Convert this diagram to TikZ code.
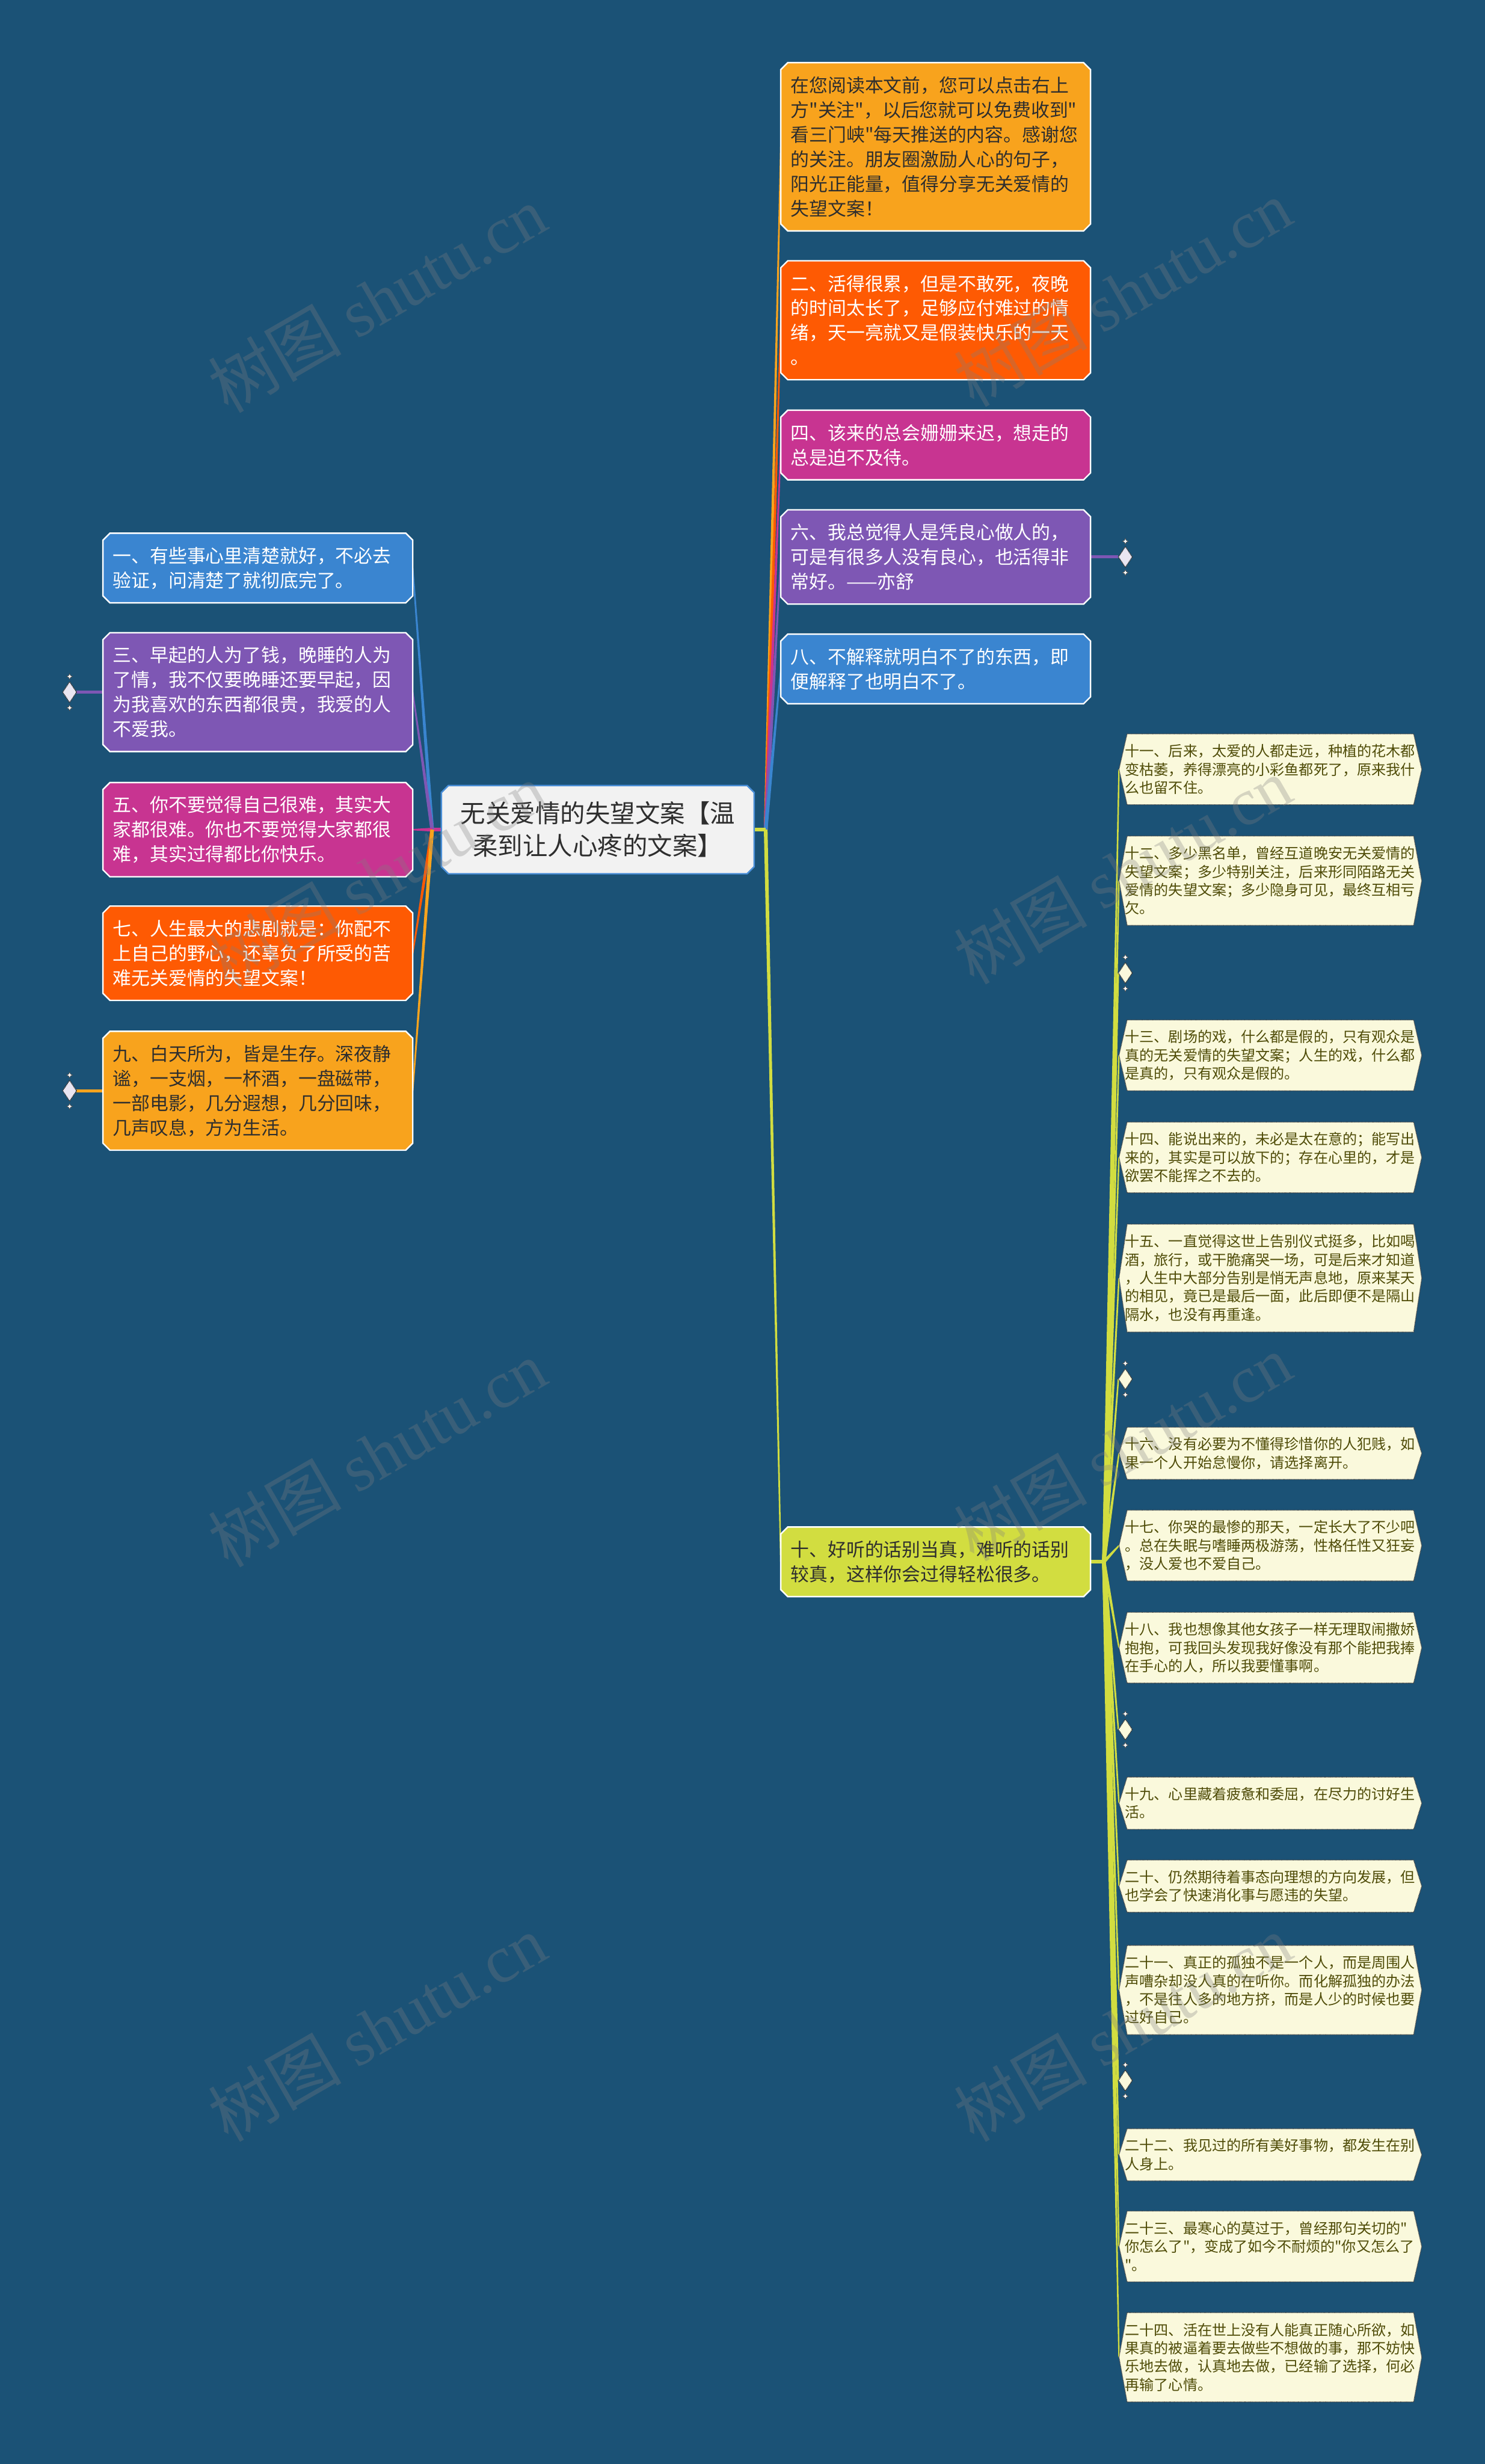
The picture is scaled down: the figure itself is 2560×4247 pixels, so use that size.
\documentclass[tikz,border=0pt]{standalone}
\usepackage{fontspec}
\setmainfont{Noto Sans CJK SC}[Ligatures=TeXOff]
\newfontfamily\wmlatin{Liberation Serif}
\usetikzlibrary{calc,shapes.geometric}
\pgfdeclarelayer{pagebg}
\pgfdeclarelayer{edges}
\pgfdeclarelayer{boxes}
\pgfsetlayers{pagebg,edges,boxes,main}
\definecolor{bgblue}{HTML}{1B5276}
\definecolor{camber}{HTML}{F8A31D}
\definecolor{cred}{HTML}{FE5A03}
\definecolor{cmag}{HTML}{C83491}
\definecolor{cpur}{HTML}{7E57B4}
\definecolor{cblue}{HTML}{3A85D0}
\definecolor{cgreen}{HTML}{D2DD40}
\definecolor{croot}{HTML}{F2F2F2}
\definecolor{crootb}{HTML}{4A8FD8}
\definecolor{cream}{HTML}{FAF9DC}
\definecolor{creamtxt}{HTML}{4F4C08}
\definecolor{darktxt}{HTML}{2E2E2E}
\definecolor{diafill}{HTML}{E9E5F1}
\tikzset{
  topbox/.style={rectangle, inner xsep=17pt, inner ysep=0pt, outer sep=0pt, text width=500pt, align=left,
    font=\fontsize{32pt}{42.5pt}\selectfont, minimum height={#1*42.5pt+35pt}},
  rootbox/.style={rectangle, inner xsep=20pt, inner ysep=0pt, outer sep=0pt, text width=499pt, align=center,
    font=\fontsize{43pt}{56pt}\selectfont, text=darktxt, minimum height=152pt},
  creambox/.style={rectangle, inner xsep=10.5pt, inner ysep=0pt, outer sep=0pt, text width=501pt, align=left,
    font=\fontsize{25pt}{31.5pt}\selectfont, text=creamtxt, minimum height={#1*32pt+26pt}},
  dia/.style={diamond, minimum width=24pt, minimum height=36pt, inner sep=0pt, outer sep=0pt,
    draw=black!80, densely dotted, line width=1.5pt},
  wm/.style={rotate=30, text=black!50, text opacity=0.3, font=\fontsize{115pt}{120pt}\selectfont},
  stub/.style={line width=6pt},
}
\newcommand\chbox[3]{%
  \begin{pgfonlayer}{boxes}
  \filldraw[fill=#2, draw=#3, line width=2.5pt]
    ([xshift=12pt]#1.north west) -- ([xshift=-12pt]#1.north east)
    -- ([yshift=-12pt]#1.north east) -- ([yshift=12pt]#1.south east)
    -- ([xshift=-12pt]#1.south east) -- ([xshift=12pt]#1.south west)
    -- ([yshift=12pt]#1.south west) -- ([yshift=-12pt]#1.north west) -- cycle;
  \end{pgfonlayer}}
\newcommand\hexbox[1]{%
  \begin{pgfonlayer}{boxes}
  \filldraw[fill=cream, draw=black!75, densely dotted, line width=1.4pt]
    (#1.west) -- ([xshift=14pt]#1.north west) -- ([xshift=-14pt]#1.north east)
    -- (#1.east) -- ([xshift=-14pt]#1.south east) -- ([xshift=14pt]#1.south west) -- cycle;
  \end{pgfonlayer}}
\newcommand\taper[5]{%
  \begin{pgfonlayer}{edges}
  \fill[#1] ($(#2)!#4!90:(#3)$) -- ($(#3)!#5!-90:(#2)$) -- ($(#3)!#5!90:(#2)$) -- ($(#2)!#4!-90:(#3)$) -- cycle;
  \end{pgfonlayer}}
\newcommand\dstars[1]{%
  \foreach \s in {27pt,-27pt}{
    \filldraw[fill=white, draw=black!70, line width=0.7pt] ([yshift=\s]#1.center) +(0pt,5pt) -- +(1.6pt,1.6pt) -- +(5pt,0pt) -- +(1.6pt,-1.6pt) -- +(0pt,-5pt) -- +(-1.6pt,-1.6pt) -- +(-5pt,0pt) -- +(-1.6pt,1.6pt) -- cycle;}}
\begin{document}
\begin{tikzpicture}[x=1pt,y=-1pt]
\useasboundingbox (0,0) rectangle (2560,4247);
\begin{pgfonlayer}{pagebg}
\fill[bgblue] (0,0) rectangle (2560,4247);
\end{pgfonlayer}

% root
\node[rootbox] (root) at (1030.5,1430) {无关爱情的失望文案【温\\柔到让人心疼的文案】};
\chbox{root}{croot}{crootb}

% right top
\node[topbox=6, text=darktxt] (n1) at (1613,253) {在您阅读本文前，您可以点击右上\\方"关注"，以后您就可以免费收到"\\看三门峡"每天推送的内容。感谢您\\的关注。朋友圈激励人心的句子，\\阳光正能量，值得分享无关爱情的\\失望文案！};
\node[topbox=4, text=white] (n2) at (1613,552) {二、活得很累，但是不敢死，夜晚\\的时间太长了，足够应付难过的情\\绪，天一亮就又是假装快乐的一天\\。};
\node[topbox=2, text=white] (n3) at (1613,767) {四、该来的总会姗姗来迟，想走的\\总是迫不及待。};
\node[topbox=3, text=white] (n4) at (1613,960) {六、我总觉得人是凭良心做人的，\\可是有很多人没有良心，也活得非\\常好。——亦舒};
\node[topbox=2, text=white] (n5) at (1613,1153) {八、不解释就明白不了的东西，即\\便解释了也明白不了。};
\chbox{n1}{camber}{white}
\chbox{n2}{cred}{white}
\chbox{n3}{cmag}{white}
\chbox{n4}{cpur}{white}
\chbox{n5}{cblue}{white}

% left
\node[topbox=2, text=white] (l1) at (444.5,979) {一、有些事心里清楚就好，不必去\\验证，问清楚了就彻底完了。};
\node[topbox=4, text=white] (l2) at (444.5,1193) {三、早起的人为了钱，晚睡的人为\\了情，我不仅要晚睡还要早起，因\\为我喜欢的东西都很贵，我爱的人\\不爱我。};
\node[topbox=3, text=white] (l3) at (444.5,1430) {五、你不要觉得自己很难，其实大\\家都很难。你也不要觉得大家都很\\难，其实过得都比你快乐。};
\node[topbox=3, text=white] (l4) at (444.5,1643) {七、人生最大的悲剧就是：你配不\\上自己的野心，还辜负了所受的苦\\难无关爱情的失望文案！};
\node[topbox=4, text=darktxt] (l5) at (444.5,1880) {九、白天所为，皆是生存。深夜静\\谧，一支烟，一杯酒，一盘磁带，\\一部电影，几分遐想，几分回味，\\几声叹息，方为生活。};
\chbox{l1}{cblue}{white}
\chbox{l2}{cpur}{white}
\chbox{l3}{cmag}{white}
\chbox{l4}{cred}{white}
\chbox{l5}{camber}{white}

% green
\node[topbox=2, text=darktxt] (green) at (1613,2692) {十、好听的话别当真，难听的话别\\较真，这样你会过得轻松很多。};
\chbox{green}{cgreen}{white}

% cream children
\node[creambox=3] (c11) at (2190,1326) {十一、后来，太爱的人都走远，种植的花木都\\变枯萎，养得漂亮的小彩鱼都死了，原来我什\\么也留不住。};
\node[creambox=4] (c12) at (2190,1518) {十二、多少黑名单，曾经互道晚安无关爱情的\\失望文案；多少特别关注，后来形同陌路无关\\爱情的失望文案；多少隐身可见，最终互相亏\\欠。};
\node[creambox=3] (c13) at (2190,1819) {十三、剧场的戏，什么都是假的，只有观众是\\真的无关爱情的失望文案；人生的戏，什么都\\是真的，只有观众是假的。};
\node[creambox=3] (c14) at (2190,1995) {十四、能说出来的，未必是太在意的；能写出\\来的，其实是可以放下的；存在心里的，才是\\欲罢不能挥之不去的。};
\node[creambox=5] (c15) at (2190,2203) {十五、一直觉得这世上告别仪式挺多，比如喝\\酒，旅行，或干脆痛哭一场，可是后来才知道\\，人生中大部分告别是悄无声息地，原来某天\\的相见，竟已是最后一面，此后即便不是隔山\\隔水，也没有再重逢。};
\node[creambox=2] (c16) at (2190,2505) {十六、没有必要为不懂得珍惜你的人犯贱，如\\果一个人开始怠慢你，请选择离开。};
\node[creambox=3] (c17) at (2190,2664) {十七、你哭的最惨的那天，一定长大了不少吧\\。总在失眠与嗜睡两极游荡，性格任性又狂妄\\，没人爱也不爱自己。};
\node[creambox=3] (c18) at (2190,2840) {十八、我也想像其他女孩子一样无理取闹撒娇\\抱抱，可我回头发现我好像没有那个能把我捧\\在手心的人，所以我要懂事啊。};
\node[creambox=2] (c19) at (2190,3108) {十九、心里藏着疲惫和委屈，在尽力的讨好生\\活。};
\node[creambox=2] (c20) at (2190,3251) {二十、仍然期待着事态向理想的方向发展，但\\也学会了快速消化事与愿违的失望。};
\node[creambox=4] (c21) at (2190,3430) {二十一、真正的孤独不是一个人，而是周围人\\声嘈杂却没人真的在听你。而化解孤独的办法\\，不是往人多的地方挤，而是人少的时候也要\\过好自己。};
\node[creambox=2] (c22) at (2190,3714) {二十二、我见过的所有美好事物，都发生在别\\人身上。};
\node[creambox=3] (c23) at (2190,3872) {二十三、最寒心的莫过于，曾经那句关切的"\\你怎么了"，变成了如今不耐烦的"你又怎么了\\"。};
\node[creambox=4] (c24) at (2190,4063) {二十四、活在世上没有人能真正随心所欲，如\\果真的被逼着要去做些不想做的事，那不妨快\\乐地去做，认真地去做，已经输了选择，何必\\再输了心情。};
\foreach \c in {c11,c12,c13,c14,c15,c16,c17,c18,c19,c20,c21,c22,c23,c24}{\hexbox{\c}}

% diamonds
\node[dia, fill=diafill] (dl2) at (120,1193) {};
\node[dia, fill=diafill] (dl5) at (120,1880) {};
\node[dia, fill=diafill] (dn4) at (1940,960) {};
\node[dia, fill=cream] (dg1) at (1940,1677) {};
\node[dia, fill=cream] (dg2) at (1940,2377) {};
\node[dia, fill=cream] (dg3) at (1940,2981) {};
\node[dia, fill=cream] (dg4) at (1940,3586) {};
\foreach \d in {dl2,dl5,dn4,dg1,dg2,dg3,dg4}{\dstars{\d}}

% junctions
\coordinate (jr) at (1320,1430);
\coordinate (jl) at (745,1430);
\coordinate (jg) at (1903,2692);

% connectors right top
\taper{camber}{jr}{n1.west}{3.2pt}{1.2pt}
\taper{cred}{jr}{n2.west}{3.2pt}{1.2pt}
\taper{cmag}{jr}{n3.west}{3.2pt}{1.2pt}
\taper{cpur}{jr}{n4.west}{3.2pt}{1.2pt}
\taper{cblue}{jr}{n5.west}{3.2pt}{1.2pt}
\taper{cgreen}{jr}{green.west}{3.2pt}{1.2pt}
\begin{pgfonlayer}{edges}
\draw[stub, cgreen] (root.east) -- (jr);
\draw[stub, cmag] (root.west) -- (jl);
\draw[stub, cgreen] (green.east) -- (jg);
\draw[line width=5pt, cpur] (n4.east) -- (dn4.west);
\draw[line width=5pt, cpur] (l2.west) -- (dl2.east);
\draw[line width=5pt, camber] (l5.west) -- (dl5.east);
\end{pgfonlayer}
% connectors left
\taper{cblue}{jl}{l1.east}{3.2pt}{1.2pt}
\taper{cpur}{jl}{l2.east}{3.2pt}{1.2pt}
\taper{cmag}{jl}{l3.east}{3.2pt}{1.2pt}
\taper{cred}{jl}{l4.east}{3.2pt}{1.2pt}
\taper{camber}{jl}{l5.east}{3.2pt}{1.2pt}
% connectors green children
\foreach \c in {c11,c12,dg1,c13,c14,c15,dg2,c16,c17,c18,dg3,c19,c20,c21,dg4,c22,c23,c24}{
  \taper{cgreen}{jg}{\c.west}{3pt}{1.2pt}}

% watermarks
\node[wm] (wm1) at (650,515) {树图 {\wmlatin shutu.cn}};
\node[wm] (wm2) at (1935,505) {树图 {\wmlatin shutu.cn}};
\node[wm] (wm3) at (650,1510) {树图 {\wmlatin shutu.cn}};
\node[wm] (wm4) at (1935,1500) {树图 {\wmlatin shutu.cn}};
\node[wm] (wm5) at (650,2505) {树图 {\wmlatin shutu.cn}};
\node[wm] (wm6) at (1935,2495) {树图 {\wmlatin shutu.cn}};
\node[wm] (wm7) at (650,3495) {树图 {\wmlatin shutu.cn}};
\node[wm] (wm8) at (1935,3495) {树图 {\wmlatin shutu.cn}};
\end{tikzpicture}
\end{document}
